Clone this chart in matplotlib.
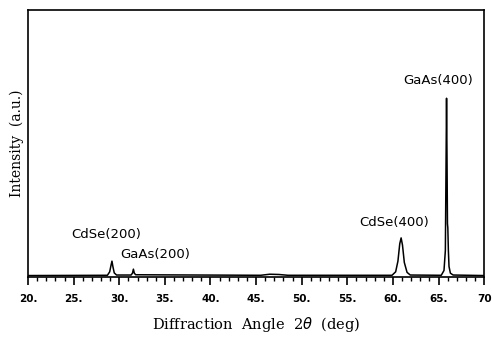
import matplotlib
matplotlib.use("Agg")
import matplotlib.pyplot as plt
from matplotlib.ticker import MultipleLocator, FixedLocator

# Traced diffraction curve (angle in deg, intensity in arbitrary units)
angle = [20.0, 28.7, 28.95, 29.1, 29.2, 29.3, 29.45, 29.7,
         31.3, 31.45, 31.55, 31.65, 31.8,
         45.5, 46.5, 47.5, 48.5,
         59.9, 60.3, 60.55, 60.75, 60.9, 61.05, 61.25, 61.55, 61.9,
         65.3, 65.6, 65.75, 65.82, 65.88, 65.93, 65.98, 66.02, 66.08, 66.15, 66.3, 66.6, 70.0]
intensity = [0.6, 0.7, 2.0, 4.5, 6.0, 4.0, 1.6, 0.8,
             0.8, 1.5, 3.0, 1.5, 0.9,
             0.7, 1.1, 1.0, 0.7,
             0.7, 2.0, 6.0, 12.5, 14.7, 12.0, 5.5, 1.8, 0.8,
             0.7, 2.5, 10.0, 40.0, 67.0, 45.0, 20.0, 18.5, 10.0, 4.0, 1.5, 0.8, 0.6]

peak_labels = ["CdSe(200)", "GaAs(200)", "CdSe(400)", "GaAs(400)"]
label_x = [28.55, 33.9, 60.1, 65.0]
label_y = [15.8, 8.3, 20.3, 73.7]

major_ticks = [20, 25, 30, 35, 40, 45, 50, 55, 60, 65, 70]
tick_labels = ["20.", "25.", "30.", "35.", "40.", "45.", "50.", "55.", "60.", "65.", "70"]

fig = plt.figure(figsize=(4.92, 3.38), dpi=100)
ax = fig.add_axes([0.057, 0.180, 0.927, 0.790])
ax.plot(angle, intensity, color="black", lw=1.1)
ax.set_xlim(20, 70)
ax.set_ylim(0, 100)

for s in ax.spines.values():
    s.set_linewidth(1.2)

ax.xaxis.set_major_locator(FixedLocator(major_ticks))
ax.set_xticklabels(tick_labels, fontsize=7.5, fontweight="bold", family="DejaVu Sans")
ax.xaxis.set_minor_locator(MultipleLocator(1))
ax.tick_params(axis="x", which="major", direction="out", length=6, width=1.2, pad=6)
ax.tick_params(axis="x", which="minor", direction="out", length=3, width=1.0)
ax.set_yticks([])

for t, x, y in zip(peak_labels, label_x, label_y):
    ax.text(x, y, t, ha="center", va="center", fontsize=9.5, family="DejaVu Sans")

ax.set_xlabel("Diffraction  Angle  2$\\theta$  (deg)", fontsize=10.5, family="DejaVu Serif", labelpad=8)
ax.set_ylabel("Intensity  (a.u.)", fontsize=10, family="DejaVu Serif", labelpad=3)

fig.savefig("out.png", dpi=100)
